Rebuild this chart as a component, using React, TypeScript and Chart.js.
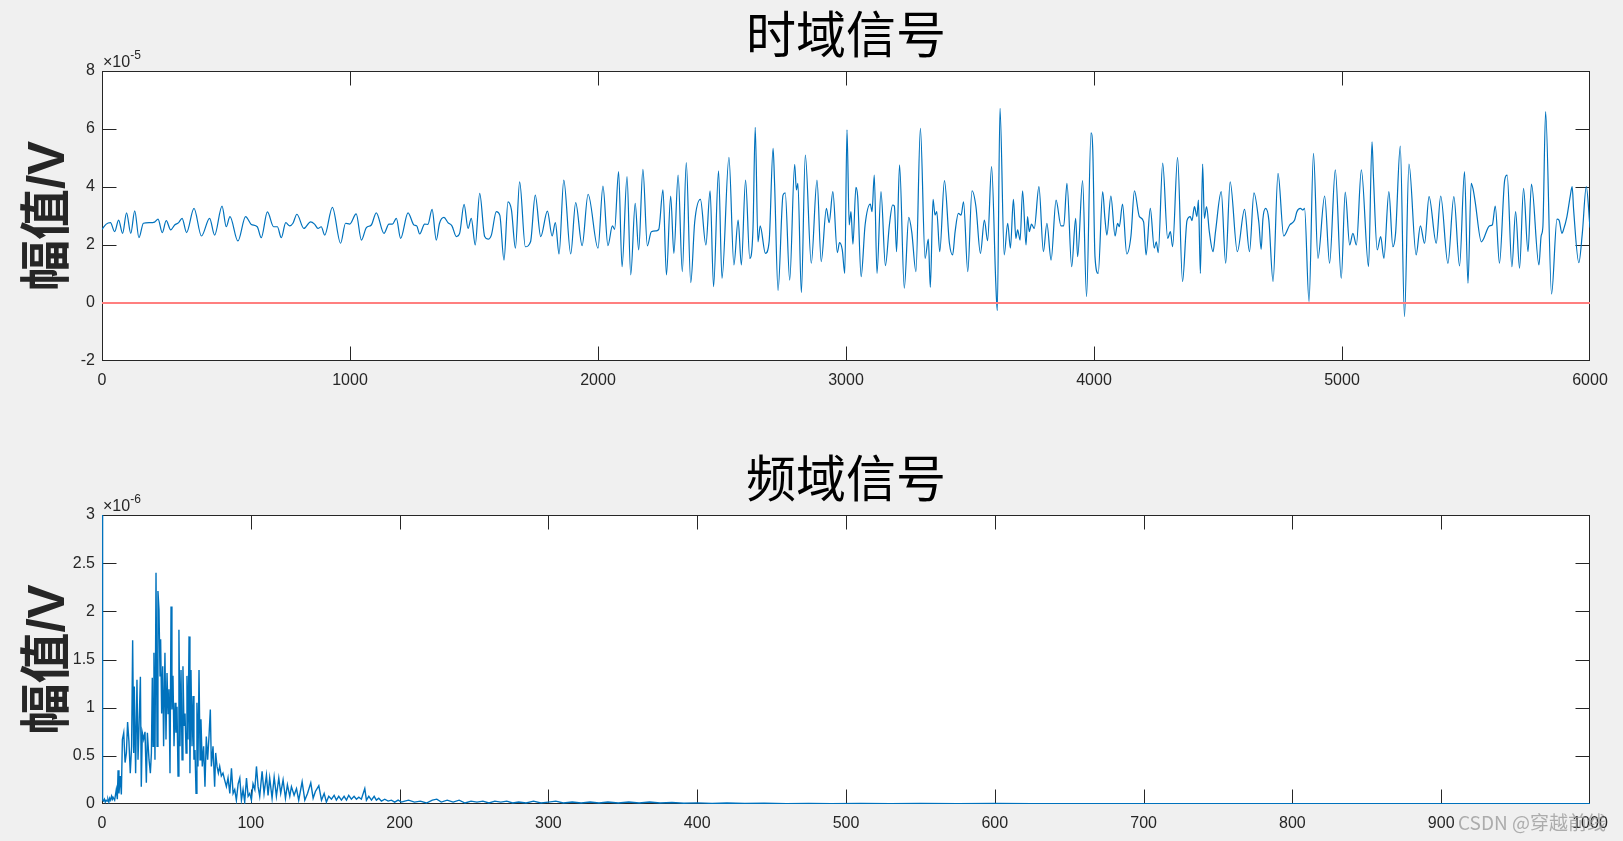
import React, { useEffect, useRef } from "react";
import { Chart, registerables } from "chart.js";

Chart.register(...registerables);

// ---------- text ----------
const TITLE_TIME = "时域信号";
const TITLE_FREQ = "频域信号";
const Y_LABEL = "幅值/V";
const TIME_EXP = "-5";
const FREQ_EXP = "-6";
const WATERMARK = "CSDN @穿越前线";

// ---------- tick labels ----------
const TIME_X_TICKS = [0, 1000, 2000, 3000, 4000, 5000, 6000];
const TIME_Y_TICKS = [-2, 0, 2, 4, 6, 8];
const FREQ_X_TICKS = [0, 100, 200, 300, 400, 500, 600, 700, 800, 900, 1000];
const FREQ_Y_TICKS = [0, 0.5, 1, 1.5, 2, 2.5, 3];

// ---------- time-domain signal (sample index, amplitude ×1e-5 V) ----------
const timeSeg1: [number, number][] = [
  [0, 2.54], [17, 2.72], [34, 2.77], [51, 2.46], [67, 2.86], [83, 2.4], [99, 3.11], [116, 2.4], [132, 3.18], [149, 2.25],
  [167, 2.75], [192, 2.77], [212, 2.79], [226, 2.89], [243, 2.43], [259, 2.84], [277, 2.52], [293, 2.69], [309, 2.77], [323, 2.92],
  [341, 2.43], [371, 3.26], [401, 2.31], [434, 2.92], [454, 2.34], [484, 3.34], [501, 2.63], [516, 2.98], [548, 2.14], [579, 2.98],
  [602, 2.71], [626, 2.63], [642, 2.25], [667, 3.14], [692, 2.63], [707, 2.63], [723, 2.25], [741, 2.77], [757, 2.66], [770, 2.75],
  [786, 3.06], [814, 2.57], [841, 2.8], [857, 2.72], [871, 2.57], [884, 2.63], [898, 2.34], [929, 3.3], [962, 2.06], [982, 2.75],
  [999, 2.72], [1025, 3.07], [1046, 2.17], [1066, 2.6], [1086, 2.69], [1106, 3.11], [1137, 2.4], [1157, 2.72], [1171, 2.72], [1187, 2.92],
  [1204, 2.23], [1234, 3.11], [1258, 2.69], [1269, 2.66], [1281, 2.38], [1301, 2.72], [1314, 2.71], [1331, 3.23], [1348, 2.17], [1361, 2.75],
  [1379, 2.95], [1395, 2.77], [1411, 2.66], [1429, 2.29], [1442, 2.4], [1460, 3.4],
];
const timeSeg2: [number, number][] = [
  [1476, 2.57], [1489, 2.92], [1505, 2.0], [1523, 3.78], [1543, 2.29], [1557, 2.2], [1570, 2.34], [1590, 3.15], [1604, 3.03], [1621, 1.48],
  [1637, 3.49], [1651, 3.21], [1667, 1.89], [1684, 4.18], [1707, 1.94], [1728, 2.11], [1747, 3.72], [1769, 2.29], [1796, 3.17], [1815, 2.31],
  [1828, 2.77], [1843, 1.69], [1862, 4.24], [1890, 1.69], [1910, 3.46], [1936, 1.98], [1960, 3.75], [2000, 1.89], [2020, 4.03], [2040, 1.98],
  [2058, 2.66], [2067, 2.54], [2083, 4.53], [2097, 1.25], [2117, 4.36], [2132, 0.97], [2150, 3.44], [2164, 1.83], [2181, 4.61], [2199, 1.97],
  [2215, 2.46], [2235, 2.49], [2245, 2.54], [2262, 3.9], [2276, 0.97], [2293, 3.69], [2306, 1.71], [2323, 4.41], [2340, 1.08], [2356, 4.84],
  [2374, 0.7], [2390, 2.8], [2413, 3.57], [2435, 2.0], [2452, 3.87], [2466, 0.56], [2486, 4.56], [2500, 0.85], [2528, 5.02], [2548, 1.31],
  [2565, 2.86], [2578, 1.31], [2595, 4.24], [2612, 1.54], [2625, 2.57], [2634, 6.06], [2645, 2.11], [2654, 2.66], [2675, 1.71], [2690, 2.11],
  [2706, 5.33], [2712, 4.13], [2726, 0.43], [2746, 3.72], [2755, 3.8], [2773, 0.79], [2793, 4.78], [2800, 3.9], [2806, 4.13], [2820, 0.36],
  [2836, 5.1], [2860, 1.37], [2883, 4.24], [2900, 1.43], [2921, 3.26], [2932, 2.77], [2947, 3.84], [2965, 1.74], [2974, 2.08], [2985, 1.83],
  [2995, 1.02],
];
const timeSeg3: [number, number][] = [
  [3004, 5.97], [3013, 2.69], [3020, 3.15], [3028, 2.03], [3040, 3.99], [3047, 3.67], [3061, 0.91], [3077, 2.69], [3098, 3.41], [3105, 3.15],
  [3114, 4.41], [3125, 1.02], [3141, 3.84], [3159, 1.29], [3175, 2.69], [3188, 3.38], [3195, 3.34], [3204, 1.77], [3216, 4.76], [3235, 0.51],
  [3253, 2.95], [3265, 2.46], [3282, 1.08], [3300, 6.02], [3319, 1.54], [3332, 2.2], [3340, 0.54], [3351, 3.57], [3359, 3.03], [3366, 3.15],
  [3378, 1.77], [3397, 4.22], [3417, 2.06], [3430, 1.66], [3440, 2.46], [3453, 3.09], [3464, 3.03], [3474, 3.49], [3491, 1.08], [3508, 3.87],
  [3524, 3.32], [3542, 1.71], [3558, 2.86], [3571, 2.15], [3587, 4.7], [3604, 0.68], [3610, -0.26], [3621, 6.71], [3638, 1.66], [3652, 2.75],
  [3663, 1.89], [3675, 3.57], [3685, 2.23], [3692, 2.52], [3702, 2.17], [3712, 3.87], [3726, 2.0], [3732, 2.98], [3739, 2.46], [3748, 2.72],
  [3759, 2.57], [3778, 4.01], [3796, 1.77], [3810, 2.75], [3827, 1.48], [3847, 3.55], [3867, 2.66], [3878, 2.66], [3891, 4.13], [3910, 1.25],
  [3926, 2.92], [3934, 1.6], [3954, 4.22], [3970, 0.22], [3988, 5.87], [3995, 5.28], [4004, 1.6], [4017, 1.02], [4035, 3.84], [4044, 2.92],
  [4052, 2.34], [4068, 3.69], [4085, 2.31], [4095, 2.75], [4102, 2.63], [4115, 3.41], [4132, 1.69], [4149, 2.31], [4163, 3.87], [4183, 2.98],
  [4200, 2.8], [4210, 1.66], [4227, 3.26], [4243, 1.89], [4251, 2.11], [4259, 1.74], [4277, 4.82], [4297, 2.23], [4308, 2.46], [4317, 1.94],
  [4337, 5.02], [4357, 0.74], [4375, 2.84], [4388, 2.98], [4395, 2.84], [4405, 3.32], [4415, 2.98], [4421, 3.55], [4429, 1.02], [4438, 4.79],
  [4445, 2.92], [4454, 3.32], [4465, 2.46],
];
const timeSeg4: [number, number][] = [
  [4480, 1.77], [4490, 2.46], [4513, 3.84], [4531, 1.37], [4549, 4.18], [4578, 1.77], [4607, 3.23], [4627, 1.77], [4645, 3.8], [4665, 2.75],
  [4674, 1.85], [4681, 2.89], [4692, 3.26], [4705, 2.86], [4722, 0.74], [4742, 4.47], [4765, 2.31], [4789, 2.69], [4809, 2.86], [4818, 3.15],
  [4832, 3.26], [4843, 3.21], [4849, 3.26], [4867, 0.05], [4885, 5.16], [4903, 1.54], [4930, 3.69], [4950, 1.37], [4973, 4.59], [4997, 0.85],
  [5013, 3.82], [5031, 2.0], [5044, 2.4], [5058, 2.0], [5078, 4.59], [5107, 1.25], [5121, 5.56], [5127, 4.3], [5142, 1.83], [5156, 2.29],
  [5169, 1.54], [5189, 3.84], [5205, 1.94], [5216, 2.4], [5235, 5.41], [5252, -0.47], [5270, 4.79], [5299, 1.66], [5316, 2.66], [5333, 2.06],
  [5351, 3.67], [5380, 2.06], [5398, 3.69], [5427, 1.37], [5451, 3.67], [5474, 1.28], [5494, 4.53], [5508, 0.68], [5521, 4.13], [5528, 3.95],
  [5537, 3.49], [5562, 2.11], [5595, 2.66], [5606, 2.69], [5618, 3.34], [5635, 1.37], [5656, 4.24], [5666, 4.41], [5685, 1.25], [5700, 3.15],
  [5716, 1.2], [5732, 3.95], [5750, 1.77], [5764, 4.1], [5794, 1.31], [5803, 2.31], [5810, 2.63], [5821, 6.6], [5845, 0.31], [5867, 2.89],
  [5875, 2.86], [5887, 2.4], [5893, 2.52], [5907, 2.98], [5920, 3.67], [5928, 4.01], [5934, 3.21], [5955, 1.39], [5969, 2.4], [5985, 4.01],
  [6000, 2.6],
];
// zero reference line (red)
const zeroLine: [number, number][] = [[0, 0], [6000, 0]];

// ---------- spectrum (frequency, amplitude ×1e-6 V) ----------
const freqSeg1: [number, number][] = [
  [0, 27], [0.4, 0.04], [1, 0.03], [1.6, 0.05], [2.2, 0.02], [2.8, 0.04], [3.4, 0.03], [4, 0.05], [4.6, 0.02], [5.2, 0.06],
  [5.8, 0.04], [6.4, 0.08], [7, 0.05], [7.4, 0.07], [8.5, 0.04], [9.6, 0.15], [10.3, 0.05], [10.8, 0.35], [11.4, 0.11], [12.3, 0.29],
  [13.0, 0.1], [13.7, 0.67], [14.6, 0.74], [15.5, 0.43], [16.4, 0.53], [17.2, 0.85], [18.1, 0.65], [19.0, 0.32], [19.9, 0.6], [20.6, 1.7],
  [21.3, 0.53], [21.7, 1.22], [22.6, 0.32], [23.5, 1.29], [24.2, 0.46], [24.9, 0.81], [25.8, 1.32], [26.4, 0.18], [27.1, 0.74], [28.0, 0.67],
  [28.9, 0.75], [29.8, 0.22], [30.5, 0.74], [31.6, 0.46], [32.5, 0.32], [33.2, 0.53], [33.8, 1.31], [34.3, 0.6], [34.9, 1.57], [35.6, 0.46],
];
const freqSeg2: [number, number][] = [
  [36.3, 2.4], [37.0, 0.6], [37.6, 2.21], [38.3, 2.02], [39.0, 1.33], [39.4, 1.71], [40.1, 0.94], [40.8, 1.43], [41.4, 0.6], [42.3, 1.57],
  [43.0, 0.67], [43.7, 1.36], [44.4, 0.94], [45.0, 1.19], [45.7, 0.32], [46.4, 2.05], [47.0, 0.98], [47.7, 1.33], [48.4, 0.6], [49.1, 1.05],
  [49.7, 0.74], [50.4, 1.01], [51.1, 0.29], [51.7, 1.81], [52.4, 0.6], [53.1, 1.39], [53.8, 0.46], [54.4, 1.43], [55.1, 0.81], [55.8, 0.94],
  [56.5, 0.53], [57.1, 1.33], [57.8, 0.67], [58.5, 1.74], [59.1, 0.32], [59.8, 1.39], [60.5, 0.6], [61.2, 1.12], [61.8, 0.46], [62.5, 0.56],
  [63.2, 0.11], [63.8, 1.05], [64.5, 0.39], [65.2, 1.39], [65.9, 0.46], [66.5, 0.88], [67.4, 0.39], [68.3, 0.6], [69.2, 0.18], [70.1, 0.7],
  [71.0, 0.46], [71.9, 0.7], [72.8, 0.98], [73.5, 0.39], [74.6, 0.6], [75.7, 0.18], [76.4, 0.53], [77.3, 0.39], [78.2, 0.32], [79.1, 0.39],
  [80.2, 0.29], [81.3, 0.32], [82.4, 0.25],
];
const freqSeg3: [number, number][] = [
  [83.6, 0.18], [84.7, 0.27], [85.9, 0.11], [87, 0.37], [88.1, 0.11], [89.2, 0.15], [90.3, 0.04], [91.5, 0.21], [92.6, 0.27], [93.7, 0.04],
  [94.8, 0.15], [95.9, 0.02], [97.1, 0.27], [98.2, 0.08], [99.3, 0.11], [100.4, 0.04], [101.5, 0.21], [102.7, 0.15], [103.8, 0.39], [104.9, 0.18],
  [106, 0.08], [107.6, 0.34], [108.9, 0.11], [110.5, 0.3], [111.6, 0.09], [112.7, 0.27], [114.3, 0.06], [115.7, 0.28], [117.2, 0.08], [118.8, 0.27],
  [120.1, 0.11], [121.7, 0.25], [123.3, 0.06], [124.6, 0.2], [126.2, 0.08], [127.3, 0.18], [129.1, 0.09], [130.7, 0.16], [132.2, 0.04], [134.5, 0.23],
  [136.3, 0.04], [138.1, 0.11], [140.3, 0.22], [141.9, 0.06], [143.4, 0.13], [145.7, 0.19], [147.5, 0.04], [149.3, 0.11], [150.8, 0.02], [152.4, 0.08],
  [154.2, 0.05], [156, 0.09], [157.5, 0.04], [159.1, 0.08], [160.9, 0.04], [162.7, 0.08], [164.3, 0.04], [165.8, 0.09], [167.6, 0.05], [169.4, 0.08],
  [171, 0.05], [172.6, 0.07], [174.3, 0.05], [176.6, 0.16], [177.7, 0.04], [179.3, 0.08], [181.1, 0.04], [182.9, 0.08], [184.4, 0.04], [186, 0.06],
  [187.8, 0.03], [190, 0.05], [192.3, 0.03], [194.5, 0.04], [196.7, 0.02], [199, 0.04], [201.2, 0.02], [203.5, 0.03],
];
const freqSeg4: [number, number][] = [
  [206, 0.04], [210, 0.02], [214, 0.03], [218, 0.01], [222, 0.04], [225, 0.05], [228, 0.02], [232, 0.04], [236, 0.02], [240, 0.04],
  [244, 0.01], [248, 0.03], [252, 0.02], [256, 0.03], [260, 0.01], [264, 0.03], [268, 0.02], [272, 0.03], [276, 0.01], [280, 0.02],
  [285, 0.01], [290, 0.03], [295, 0.01], [300, 0.02], [305, 0.03], [310, 0.01], [316, 0.02], [322, 0.01], [328, 0.02], [334, 0.01],
  [340, 0.02], [347, 0.01], [354, 0.02], [361, 0.01], [368, 0.02], [375, 0.01], [383, 0.015], [391, 0.008], [400, 0.012], [410, 0.006],
  [420, 0.01], [432, 0.005], [445, 0.008], [460, 0.004], [475, 0.007], [490, 0.004], [510, 0.006], [530, 0.003], [550, 0.005], [575, 0.003],
  [600, 0.005], [625, 0.003], [650, 0.004], [675, 0.003], [700, 0.004], [730, 0.003], [760, 0.004], [790, 0.003], [820, 0.004], [850, 0.003],
  [880, 0.004], [910, 0.003], [940, 0.004], [970, 0.003], [1000, 0.004],
];

// ---------- styling ----------
const LATIN = '"Liberation Sans", Arial, "Noto Sans CJK SC", sans-serif';
const CJK = '"Noto Sans CJK SC", "Liberation Sans", sans-serif';
const AXIS_COLOR = "#262626";
const BLUE = "#0072BD";
const RED = "#ff7f7f";
const W = 1623;

const toXY = (arr: [number, number][]) => arr.map(([x, y]) => ({ x, y }));

function axesPlugin(exp: string, watermark?: string) {
  return {
    id: "matlabAxes",
    beforeDraw(chart: any) {
      const { ctx, chartArea: a } = chart;
      ctx.save();
      ctx.fillStyle = "#ffffff";
      ctx.fillRect(a.left, a.top, a.right - a.left, a.bottom - a.top);
      ctx.restore();
    },
    beforeDatasetsDraw(chart: any) {
      const { ctx, chartArea: a, scales } = chart;
      const L = Math.round(a.left) + 0.5;
      const R = Math.round(a.right) - 0.5;
      const T = Math.round(a.top) + 0.5;
      const B = Math.round(a.bottom) - 0.5;
      const TL = 14;
      ctx.save();
      ctx.strokeStyle = AXIS_COLOR;
      ctx.lineWidth = 1;
      ctx.strokeRect(L, T, R - L, B - T);
      ctx.beginPath();
      for (const t of scales.x.ticks) {
        const px = Math.round(scales.x.getPixelForValue(t.value)) + 0.5;
        if (px < L + 2 || px > R - 2) continue;
        ctx.moveTo(px, B);
        ctx.lineTo(px, B - TL);
        ctx.moveTo(px, T);
        ctx.lineTo(px, T + TL);
      }
      for (const t of scales.y.ticks) {
        const py = Math.round(scales.y.getPixelForValue(t.value)) + 0.5;
        if (py < T + 2 || py > B - 2) continue;
        ctx.moveTo(L, py);
        ctx.lineTo(L + TL, py);
        ctx.moveTo(R, py);
        ctx.lineTo(R - TL, py);
      }
      ctx.stroke();
      // exponent label ×10^exp
      ctx.fillStyle = AXIS_COLOR;
      ctx.textBaseline = "alphabetic";
      ctx.textAlign = "left";
      ctx.font = `16px ${LATIN}`;
      const base = "\u00d710";
      const x0 = a.left + 1;
      const y0 = a.top - 4;
      ctx.fillText(base, x0, y0);
      const w = ctx.measureText(base).width;
      ctx.font = `12px ${LATIN}`;
      ctx.fillText(exp, x0 + w, y0 - 8);
      ctx.restore();
    },
    afterDraw(chart: any) {
      if (!watermark) return;
      const { ctx, chartArea: a } = chart;
      ctx.save();
      ctx.fillStyle = "rgba(150,150,150,0.75)";
      ctx.font = `19px ${CJK}`;
      ctx.textAlign = "left";
      ctx.textBaseline = "alphabetic";
      ctx.fillText(watermark, a.right - 132, a.bottom + 26);
      ctx.restore();
    },
  };
}

function buildConfig(p: {
  title: string;
  titlePadTop: number;
  titlePadBottom: number;
  xMin: number;
  xMax: number;
  xTicks: number[];
  yMin: number;
  yMax: number;
  yTicks: number[];
  xAxisHeight: number;
  datasets: any[];
  exp: string;
  watermark?: string;
}): any {
  return {
    type: "line",
    data: { datasets: p.datasets },
    options: {
      responsive: false,
      animation: false,
      events: [],
      layout: { padding: { left: 0, right: W - 1590, top: 0, bottom: 0 } },
      plugins: {
        legend: { display: false },
        tooltip: { enabled: false },
        title: {
          display: true,
          fullSize: false,
          text: p.title,
          color: "#000000",
          font: { family: CJK, size: 50, weight: "normal", lineHeight: 1.2 },
          padding: { top: p.titlePadTop, bottom: p.titlePadBottom },
        },
      },
      scales: {
        x: {
          type: "linear",
          min: p.xMin,
          max: p.xMax,
          grid: { display: false, drawTicks: false },
          border: { display: false },
          ticks: {
            color: AXIS_COLOR,
            font: { family: LATIN, size: 16 },
            padding: 10,
            maxRotation: 0,
            autoSkip: false,
            callback: (v: any) => String(v),
          },
          afterBuildTicks: (s: any) => {
            s.ticks = p.xTicks.map((value) => ({ value }));
          },
          afterFit: (s: any) => {
            s.height = p.xAxisHeight;
          },
        },
        y: {
          type: "linear",
          min: p.yMin,
          max: p.yMax,
          grid: { display: false, drawTicks: false },
          border: { display: false },
          ticks: {
            color: AXIS_COLOR,
            font: { family: LATIN, size: 16 },
            padding: 7,
            autoSkip: false,
            callback: (v: any) => String(v),
          },
          afterBuildTicks: (s: any) => {
            s.ticks = p.yTicks.map((value) => ({ value }));
          },
          title: {
            display: true,
            text: Y_LABEL,
            color: AXIS_COLOR,
            font: { family: LATIN, size: 51, weight: "bold", lineHeight: 1.2 },
            padding: { top: 19, bottom: 0 },
          },
          afterFit: (s: any) => {
            s.width = 102;
          },
        },
      },
    },
    plugins: [axesPlugin(p.exp, p.watermark)],
  };
}

export default function App() {
  const topRef = useRef<HTMLCanvasElement | null>(null);
  const botRef = useRef<HTMLCanvasElement | null>(null);

  useEffect(() => {
    const timeData = toXY([...timeSeg1, ...timeSeg2, ...timeSeg3, ...timeSeg4]);
    const freqData = toXY([...freqSeg1, ...freqSeg2, ...freqSeg3, ...freqSeg4]);

    const top = new Chart(
      topRef.current as HTMLCanvasElement,
      buildConfig({
        title: TITLE_TIME,
        titlePadTop: 4,
        titlePadBottom: 7,
        xMin: 0,
        xMax: 6000,
        xTicks: TIME_X_TICKS,
        yMin: -2,
        yMax: 8,
        yTicks: TIME_Y_TICKS,
        xAxisHeight: 430 - 361,
        exp: TIME_EXP,
        datasets: [
          { data: toXY(zeroLine), borderColor: RED, borderWidth: 2, pointRadius: 0, fill: false },
          {
            data: timeData,
            borderColor: BLUE,
            borderWidth: 1.2,
            pointRadius: 0,
            fill: false,
            cubicInterpolationMode: "monotone",
          },
        ],
      })
    );

    const bot = new Chart(
      botRef.current as HTMLCanvasElement,
      buildConfig({
        title: TITLE_FREQ,
        titlePadTop: 18,
        titlePadBottom: 7,
        xMin: 0,
        xMax: 1000,
        xTicks: FREQ_X_TICKS,
        yMin: 0,
        yMax: 3,
        yTicks: FREQ_Y_TICKS,
        xAxisHeight: 411 - 374,
        exp: FREQ_EXP,
        watermark: WATERMARK,
        datasets: [
          { data: freqData, borderColor: BLUE, borderWidth: 1.4, pointRadius: 0, fill: false },
        ],
      })
    );

    return () => {
      top.destroy();
      bot.destroy();
    };
  }, []);

  return (
    <div
      style={{
        position: "fixed",
        left: 0,
        top: 0,
        width: W,
        height: 841,
        background: "#f0f0f0",
        overflow: "hidden",
      }}
    >
      <canvas ref={topRef} width={W} height={430} style={{ position: "absolute", left: 0, top: 0 }} />
      <canvas ref={botRef} width={W} height={411} style={{ position: "absolute", left: 0, top: 430 }} />
    </div>
  );
}
